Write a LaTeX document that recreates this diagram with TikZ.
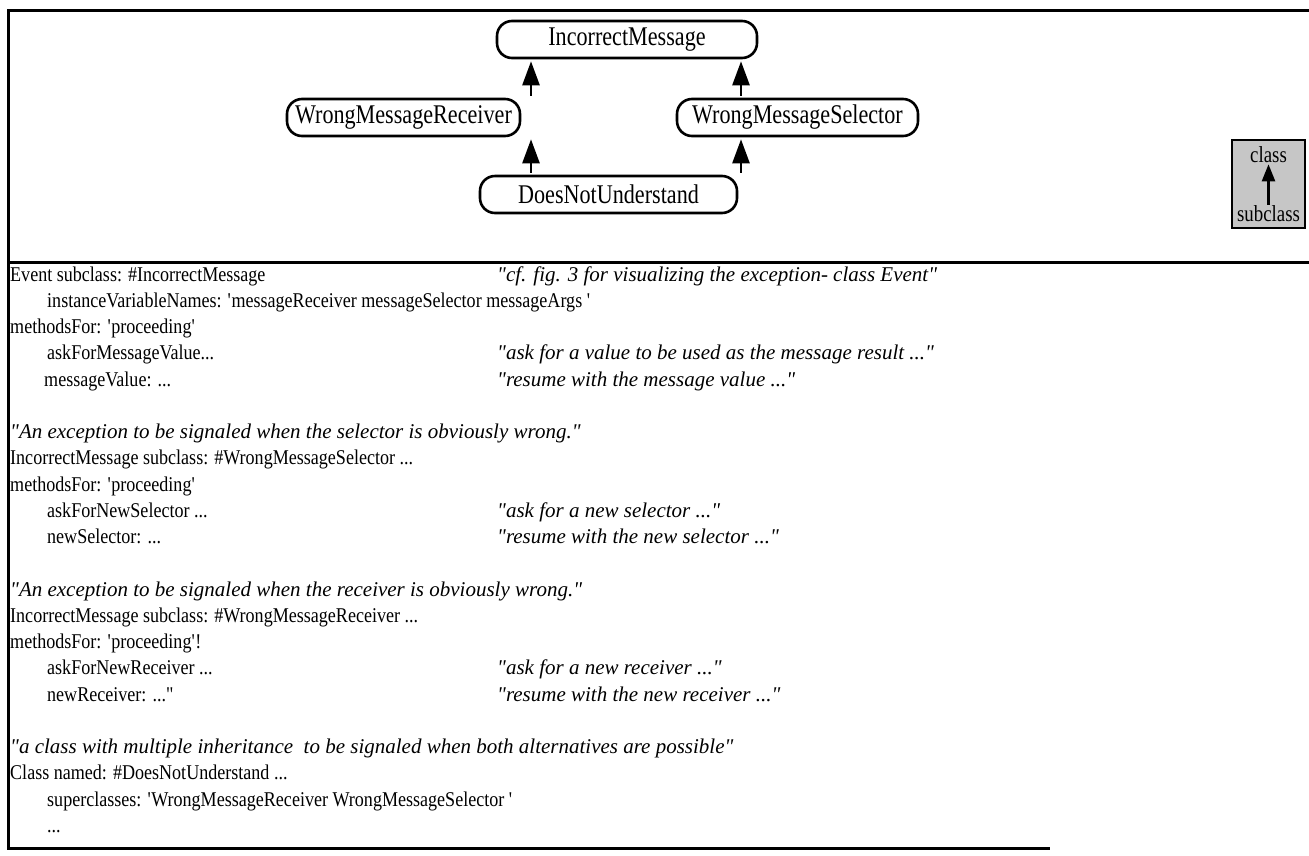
\documentclass[tikz,border=0pt]{standalone}
\usepackage{fontspec}
\setmainfont{Liberation Serif}
\newfontfamily\bodyfont[FakeStretch=0.86]{Liberation Serif}
\newfontfamily\cmtfont[FakeStretch=1.0]{Liberation Serif Italic}
\newfontfamily\boxfont[FakeStretch=0.82]{Liberation Serif}
\usetikzlibrary{arrows.meta}
\newcommand{\qs}{\textquotesingle}
\begin{document}
\begin{tikzpicture}[x=1pt,y=-1pt,
  cls/.style={draw, line width=2.6pt, rounded corners=15pt, minimum height=37pt, inner sep=0pt, font=\boxfont\fontsize{27}{30}\selectfont},
  inh/.style={line width=2.6pt, -{Triangle[width=17pt,length=24pt]}, shorten >=2pt, shorten <=2pt},
  frameline/.style={line width=3pt},
  code/.style={anchor=base west, inner sep=0pt, font=\bodyfont\fontsize{21}{24}\selectfont},
  cmt/.style={anchor=base west, inner sep=0pt, font=\cmtfont\fontsize{21}{24}\selectfont}]
\useasboundingbox (0,0) rectangle (1309,855);
% frame
\draw[frameline] (1309,10) -- (8,10) -- (8,848) -- (1050,848);
\draw[frameline] (8,262) -- (1309,262);
% class nodes
\node[cls, minimum width=260pt] (im) at (627,39.5) {IncorrectMessage};
\node[cls, minimum width=233pt] (wmr) at (403.5,117.5) {WrongMessageReceiver};
\node[cls, minimum width=241pt] (wms) at (797.5,117.5) {WrongMessageSelector};
\node[cls, minimum width=257pt] (dnu) at (608.5,194.5) {DoesNotUnderstand};
\coordinate (ax1) at (531,0);
\coordinate (ax2) at (741,0);
\draw[inh] (wmr.north -| ax1) -- (im.south -| ax1);
\draw[inh] (wms.north -| ax2) -- (im.south -| ax2);
\draw[inh] (dnu.north -| ax1) -- (wmr.south -| ax1);
\draw[inh] (dnu.north -| ax2) -- (wms.south -| ax2);
% legend
\node[draw, line width=2.6pt, fill=gray!45, minimum width=73pt, minimum height=88pt, inner sep=0pt] (legend) at (1268.5,184) {};
\node[inner sep=0pt, font=\boxfont\fontsize{23}{24}\selectfont] (lcl) at (1268.5,155) {class};
\node[inner sep=0pt, font=\boxfont\fontsize{23}{24}\selectfont] (lsub) at (1268.5,214) {subclass};
\draw[line width=2.4pt, -{Triangle[width=13pt,length=17pt]}, shorten >=1pt, shorten <=1pt] (lsub.north) -- (lcl.south);
% code text
\node[code] (l0) at (10,281) {Event subclass: \#IncorrectMessage};
\node[cmt] (c0) at (497,281) {"cf. fig. 3 for visualizing the exception- class Event"};
\node[code] (l1) at (47,307.25) {instanceVariableNames: \qs messageReceiver messageSelector messageArgs \qs};
\node[code] (l2) at (10,333.5) {methodsFor: \qs proceeding\qs};
\node[code] (l3) at (47,359.75) {askForMessageValue...};
\node[cmt] (c3) at (497,359.75) {"ask for a value to be used as the message result ..."};
\node[code] (l4) at (44,386) {messageValue: ...};
\node[cmt] (c4) at (497,386) {"resume with the message value ..."};
\node[cmt] (l6) at (10,438.5) {"An exception to be signaled when the selector is obviously wrong."};
\node[code] (l7) at (10,464.75) {IncorrectMessage subclass: \#WrongMessageSelector ...};
\node[code] (l8) at (10,491) {methodsFor: \qs proceeding\qs};
\node[code] (l9) at (47,517.25) {askForNewSelector ...};
\node[cmt] (c9) at (497,517.25) {"ask for a new selector ..."};
\node[code] (l10) at (47,543.5) {newSelector: ...};
\node[cmt] (c10) at (497,543.5) {"resume with the new selector ..."};
\node[cmt] (l12) at (10,596) {"An exception to be signaled when the receiver is obviously wrong."};
\node[code] (l13) at (10,622.25) {IncorrectMessage subclass: \#WrongMessageReceiver ...};
\node[code] (l14) at (10,648.5) {methodsFor: \qs proceeding\qs !};
\node[code] (l15) at (47,674.75) {askForNewReceiver ...};
\node[cmt] (c15) at (497,674.75) {"ask for a new receiver ..."};
\node[code] (l16) at (47,701) {newReceiver: ..."};
\node[cmt] (c16) at (497,701) {"resume with the new receiver ..."};
\node[cmt] (l18) at (10,753.5) {"a class with multiple inheritance\ \ to be signaled when both alternatives are possible"};
\node[code] (l19) at (10,779.75) {Class named: \#DoesNotUnderstand ...};
\node[code] (l20) at (47,806) {superclasses: \qs WrongMessageReceiver WrongMessageSelector \qs};
\node[code] (l21) at (47,832.25) {...};
\end{tikzpicture}
\end{document}
